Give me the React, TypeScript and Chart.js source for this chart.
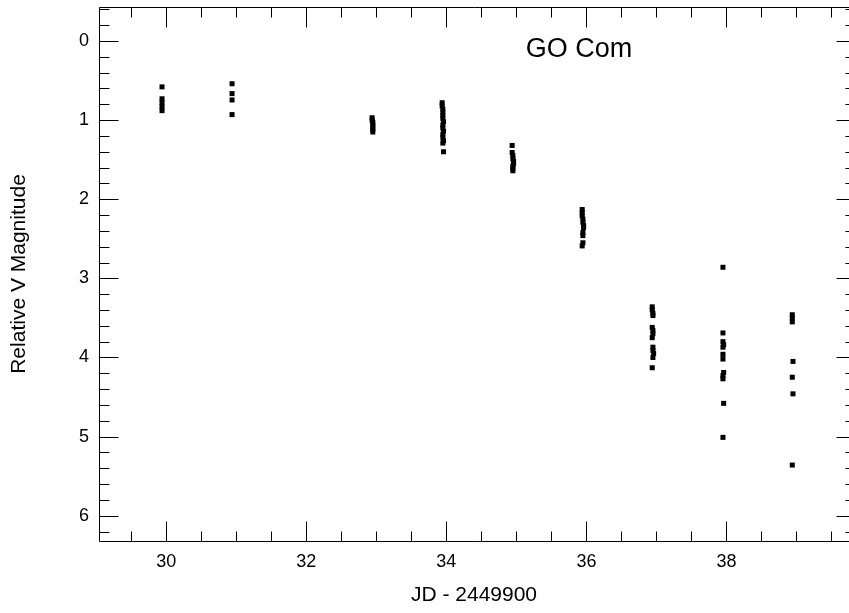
import React, { useEffect, useRef } from "react";
import { Chart, registerables } from "chart.js";

Chart.register(...registerables);

// JD - 2449900 and relative V magnitude, one pair of arrays per night
const night30JD = [29.94, 29.94, 29.94, 29.94, 29.94];
const night30Mag = [0.58, 0.73, 0.78, 0.83, 0.88];

const night31JD = [30.94, 30.94, 30.94, 30.94];
const night31Mag = [0.54, 0.665, 0.745, 0.93];

const night33JD = [32.94, 32.94, 32.95, 32.95, 32.95, 32.95, 32.95];
const night33Mag = [0.97, 1.0, 1.03, 1.06, 1.09, 1.12, 1.15];

const night34JD = [33.94, 33.94, 33.95, 33.95, 33.95, 33.95, 33.96, 33.95, 33.95, 33.96, 33.95, 33.95, 33.96, 33.95, 33.96];
const night34Mag = [0.78, 0.82, 0.86, 0.9, 0.94, 0.98, 1.02, 1.06, 1.1, 1.14, 1.18, 1.22, 1.26, 1.29, 1.4];

const night35JD = [34.94, 34.94, 34.95, 34.95, 34.96, 34.96, 34.95, 34.95, 34.95];
const night35Mag = [1.32, 1.41, 1.45, 1.49, 1.52, 1.55, 1.58, 1.61, 1.64];

const night36JD = [35.94, 35.94, 35.94, 35.95, 35.95, 35.96, 35.96, 35.95, 35.95, 35.95, 35.94];
const night36Mag = [2.13, 2.17, 2.21, 2.25, 2.29, 2.33, 2.36, 2.42, 2.46, 2.55, 2.59];

const night37JD = [36.94, 36.94, 36.95, 36.95, 36.94, 36.95, 36.95, 36.94, 36.95, 36.95, 36.96, 36.95, 36.94];
const night37Mag = [3.36, 3.4, 3.44, 3.47, 3.62, 3.66, 3.7, 3.75, 3.87, 3.91, 3.95, 4.0, 4.13];

const night38JD = [37.95, 37.95, 37.95, 37.96, 37.95, 37.95, 37.95, 37.96, 37.95, 37.95, 37.96, 37.95];
const night38Mag = [2.86, 3.69, 3.8, 3.84, 3.87, 3.96, 4.02, 4.19, 4.23, 4.27, 4.58, 5.01];

const night39JD = [38.94, 38.94, 38.94, 38.95, 38.94, 38.95, 38.94];
const night39Mag = [3.46, 3.5, 3.55, 4.05, 4.25, 4.46, 5.36];

const xTickValues = [30, 32, 34, 36, 38];
const yTickValues = [0, 1, 2, 3, 4, 5, 6];

const starName = "GO Com";
const xTitle = "JD - 2449900";
const yTitle = "Relative V Magnitude";

const nights: [number[], number[]][] = [
  [night30JD, night30Mag],
  [night31JD, night31Mag],
  [night33JD, night33Mag],
  [night34JD, night34Mag],
  [night35JD, night35Mag],
  [night36JD, night36Mag],
  [night37JD, night37Mag],
  [night38JD, night38Mag],
  [night39JD, night39Mag],
];

const FONT = "'Liberation Sans', Arial, Helvetica, sans-serif";

const frameTicks = {
  id: "frameTicks",
  afterDraw(chart: any) {
    const { ctx, chartArea: a, scales } = chart;
    const xs = scales.x;
    const ys = scales.y;
    ctx.save();
    ctx.strokeStyle = "#000";
    ctx.lineWidth = 1;
    const L = a.left + 0.5;
    // the original frame's right edge lies just beyond the picture
    const R = a.right + 6.5;
    const T = a.top + 0.5;
    const B = a.bottom + 0.5;
    ctx.beginPath();
    ctx.moveTo(L, T);
    ctx.lineTo(R, T);
    ctx.lineTo(R, B);
    ctx.lineTo(L, B);
    ctx.closePath();
    ctx.stroke();

    ctx.beginPath();
    // x ticks, minor every 0.5, major every 2
    for (let i = Math.ceil(xs.min * 2); i <= Math.floor(xs.max * 2); i++) {
      const v = i / 2;
      const major = Math.abs(v / 2 - Math.round(v / 2)) < 1e-6;
      const len = major ? 20 : 10;
      const px = Math.round(xs.getPixelForValue(v)) + 0.5;
      ctx.moveTo(px, B);
      ctx.lineTo(px, B - len);
      ctx.moveTo(px, T);
      ctx.lineTo(px, T + len);
    }
    // y ticks, minor every 0.2, major every 1
    for (let i = Math.ceil(ys.min * 5 - 1e-6); i <= Math.floor(ys.max * 5 + 1e-6); i++) {
      const v = i / 5;
      const major = i % 5 === 0;
      const len = major ? 19 : 10;
      const py = Math.round(ys.getPixelForValue(v)) + 0.5;
      ctx.moveTo(L, py);
      ctx.lineTo(L + len, py);
      ctx.moveTo(R, py);
      ctx.lineTo(R - len, py);
    }
    ctx.stroke();

    ctx.fillStyle = "#000";
    ctx.font = `27px ${FONT}`;
    ctx.textAlign = "center";
    ctx.textBaseline = "alphabetic";
    ctx.fillText(starName, 579, 56.5);
    ctx.restore();
  },
};

export default function App() {
  const ref = useRef<HTMLCanvasElement | null>(null);

  useEffect(() => {
    if (!ref.current) return;
    const points: { x: number; y: number }[] = [];
    nights.forEach(([jd, mag]) => {
      jd.forEach((x, i) => points.push({ x, y: mag[i] }));
    });

    const chart = new Chart(ref.current, {
      type: "scatter",
      data: {
        datasets: [
          {
            data: points,
            pointStyle: "rect",
            pointRadius: 3.54,
            pointHoverRadius: 3.54,
            borderWidth: 0,
            backgroundColor: "#000",
            borderColor: "#000",
          },
        ],
      },
      options: {
        animation: false,
        responsive: false,
        events: [],
        layout: { autoPadding: false, padding: { top: 7, right: 0, left: 0, bottom: 0 } },
        plugins: {
          legend: { display: false },
          tooltip: { enabled: false },
          title: { display: false },
        },
        scales: {
          x: {
            type: "linear",
            min: 29.04,
            max: 39.75,
            grid: { display: false, drawTicks: false },
            border: { display: false },
            afterBuildTicks: (s: any) => {
              s.ticks = xTickValues.map((v) => ({ value: v }));
            },
            afterFit: (s: any) => {
              s.height = 72;
              s.paddingLeft = 0;
              s.paddingRight = 0;
            },
            ticks: {
              color: "#000",
              font: { family: FONT, size: 18 },
              padding: 10,
              maxRotation: 0,
              autoSkip: false,
              callback: (v: any) => String(v),
            },
            title: {
              display: true,
              text: xTitle,
              color: "#000",
              font: { family: FONT, size: 21 },
              padding: { top: 0, bottom: 5 },
            },
          },
          y: {
            type: "linear",
            reverse: true,
            min: -0.43,
            max: 6.32,
            grid: { display: false, drawTicks: false },
            border: { display: false },
            afterBuildTicks: (s: any) => {
              s.ticks = yTickValues.map((v) => ({ value: v }));
            },
            afterFit: (s: any) => {
              s.width = 99;
              s.paddingTop = 0;
              s.paddingBottom = 0;
            },
            ticks: {
              color: "#000",
              font: { family: FONT, size: 18 },
              padding: 10,
              autoSkip: false,
              callback: (v: any) => String(v),
            },
            title: {
              display: true,
              text: yTitle,
              color: "#000",
              font: { family: FONT, size: 21 },
              padding: { top: 6.5, bottom: 0 },
            },
          },
        },
      },
      plugins: [frameTicks],
    });
    return () => chart.destroy();
  }, []);

  return (
    <div style={{ position: "absolute", left: 0, top: 0, width: 849, height: 613, background: "#fff" }}>
      <canvas ref={ref} width={849} height={613} style={{ width: 849, height: 613, display: "block" }} />
    </div>
  );
}
